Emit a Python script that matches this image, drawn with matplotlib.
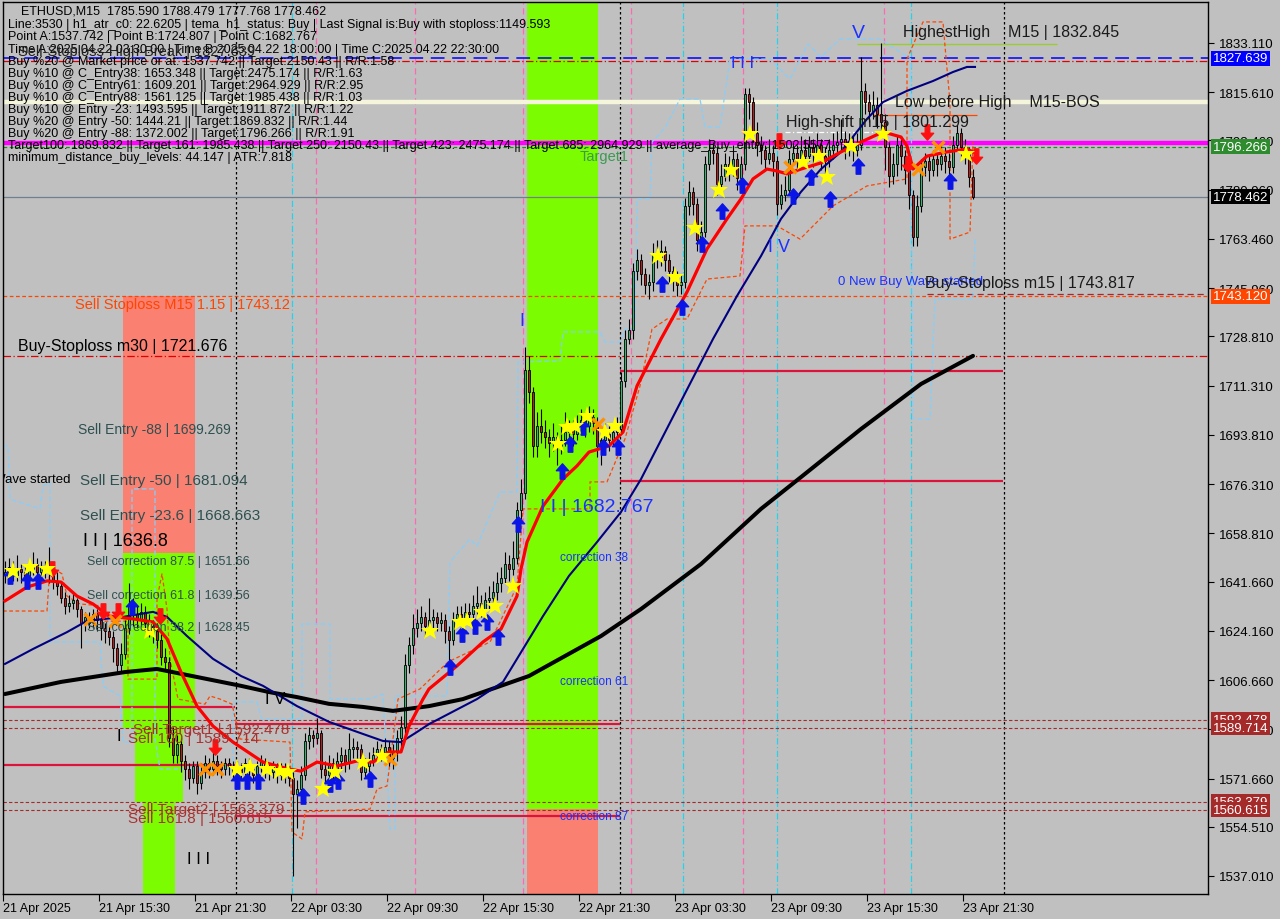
import matplotlib.pyplot as plt
import numpy as np
from matplotlib.path import Path

plt.rcParams['font.family'] = ['Liberation Sans', 'DejaVu Sans']

# ---------------- data ----------------
# M15 candles, bar 0 = 21 Apr 09:30
first_open = 1644
close = [1645, 1647, 1644, 1646, 1645, 1643, 1646, 1648, 1645, 1647, 1646,
         1645, 1642, 1640, 1636, 1633, 1634, 1635, 1632, 1627, 1629,
         1627, 1630, 1628, 1625, 1624, 1622, 1618, 1612, 1616, 1625,
         1633, 1630, 1628, 1631, 1627, 1626, 1624, 1621, 1615, 1613,
         1586, 1580, 1584, 1578, 1575, 1572, 1576, 1570, 1574, 1577,
         1575, 1578, 1576, 1575, 1577, 1576, 1574, 1576, 1574, 1577,
         1575, 1573, 1576, 1578, 1575, 1574, 1576, 1573, 1575, 1574,
         1572, 1566, 1568, 1573, 1585, 1587, 1586, 1588, 1575, 1573,
         1577, 1574, 1578, 1580, 1577, 1582, 1583, 1582, 1574, 1576,
         1578, 1580, 1582, 1581, 1583, 1579, 1581, 1586, 1590, 1612,
         1619, 1625, 1627, 1629, 1626, 1628, 1629, 1627, 1628, 1624,
         1621, 1628, 1630, 1629, 1631, 1630, 1633, 1634, 1632, 1635,
         1636, 1638, 1641, 1643, 1648, 1646, 1650, 1667, 1673, 1717,
         1709, 1690, 1697, 1695, 1693, 1691, 1693, 1690, 1692, 1695,
         1696, 1694, 1697, 1699, 1697, 1700, 1698, 1690, 1692, 1694,
         1692, 1695, 1696, 1713, 1728, 1731, 1752, 1756, 1751, 1747,
         1748, 1758, 1757, 1759, 1756, 1752, 1749, 1747, 1748, 1775,
         1780, 1776, 1763, 1766, 1790, 1795, 1794, 1783, 1786, 1790,
         1788, 1792, 1785, 1790, 1815, 1812, 1801, 1797, 1795, 1792,
         1794, 1791, 1776, 1779, 1781, 1792, 1794, 1792, 1795, 1793,
         1796, 1794, 1797, 1793, 1791, 1795, 1797, 1798, 1799, 1796,
         1797, 1795, 1797, 1816, 1812, 1809, 1811, 1808, 1805, 1796,
         1786, 1790, 1797, 1793, 1788, 1779, 1764, 1775, 1789, 1791,
         1788, 1792, 1790, 1793, 1791, 1789, 1797, 1801, 1796, 1794,
         1785.59, 1778.462]
high = [1649, 1650, 1649, 1651, 1648, 1647, 1648, 1652, 1650, 1649, 1649,
        1654, 1647, 1645, 1642, 1638, 1637, 1638, 1636, 1633, 1631,
        1631, 1632, 1632, 1629, 1627, 1626, 1624, 1620, 1620, 1628,
        1641, 1636, 1633, 1634, 1633, 1630, 1628, 1627, 1623, 1618,
        1615, 1590, 1587, 1586, 1580, 1577, 1578, 1578, 1577, 1580,
        1579, 1581, 1580, 1578, 1579, 1579, 1578, 1578, 1577, 1579,
        1579, 1576, 1578, 1580, 1579, 1577, 1578, 1577, 1577, 1577,
        1576, 1574, 1571, 1576, 1588, 1590, 1589, 1593, 1589, 1578,
        1580, 1579, 1581, 1583, 1582, 1588, 1586, 1585, 1584, 1579,
        1581, 1583, 1585, 1584, 1586, 1585, 1584, 1589, 1594, 1616,
        1622, 1630, 1632, 1633, 1631, 1636, 1632, 1631, 1631, 1630,
        1626, 1631, 1633, 1633, 1634, 1634, 1637, 1640, 1637, 1638,
        1640, 1642, 1645, 1647, 1652, 1651, 1656, 1670, 1678, 1725,
        1722, 1711, 1702, 1703, 1699, 1696, 1698, 1695, 1697, 1702,
        1699, 1699, 1701, 1703, 1702, 1704, 1703, 1700, 1696, 1698,
        1697, 1698, 1700, 1716, 1731, 1735, 1755, 1760, 1758, 1753,
        1751, 1762, 1763, 1763, 1761, 1758, 1754, 1752, 1751, 1778,
        1784, 1782, 1778, 1770, 1793, 1799, 1798, 1796, 1790, 1794,
        1793, 1797, 1794, 1793, 1817, 1817, 1814, 1805, 1800, 1797,
        1799, 1797, 1793, 1783, 1786, 1795, 1798, 1797, 1800, 1799,
        1800, 1799, 1801, 1799, 1796, 1799, 1801, 1802, 1806, 1802,
        1801, 1800, 1801, 1828, 1819, 1815, 1816, 1814, 1833, 1808,
        1798, 1794, 1800, 1799, 1795, 1790, 1781, 1779, 1792, 1794,
        1793, 1795, 1794, 1797, 1796, 1794, 1800, 1804, 1803, 1799,
        1796, 1788.479]
low = [1641, 1643, 1642, 1642, 1641, 1640, 1641, 1644, 1643, 1642, 1643,
       1641, 1639, 1637, 1634, 1630, 1631, 1632, 1629, 1618, 1624,
       1625, 1625, 1624, 1621, 1620, 1619, 1613, 1609, 1610, 1614,
       1623, 1626, 1625, 1626, 1624, 1622, 1620, 1618, 1612, 1610,
       1583, 1577, 1577, 1574, 1571, 1568, 1570, 1566, 1568, 1572,
       1572, 1573, 1573, 1572, 1573, 1573, 1571, 1572, 1571, 1573,
       1572, 1570, 1572, 1574, 1572, 1571, 1572, 1570, 1571, 1570,
       1569, 1537, 1554, 1564, 1571, 1582, 1583, 1584, 1572, 1570,
       1571, 1571, 1572, 1575, 1574, 1575, 1579, 1579, 1571, 1572,
       1574, 1576, 1578, 1578, 1579, 1576, 1575, 1578, 1583, 1588,
       1609, 1616, 1622, 1624, 1622, 1623, 1625, 1624, 1624, 1620,
       1613, 1619, 1626, 1626, 1627, 1627, 1628, 1630, 1629, 1630,
       1632, 1633, 1635, 1638, 1641, 1642, 1644, 1648, 1664, 1671,
       1705, 1686, 1686, 1691, 1689, 1686, 1688, 1683, 1687, 1690,
       1692, 1690, 1692, 1695, 1693, 1695, 1694, 1686, 1683, 1689,
       1688, 1690, 1692, 1694, 1711, 1726, 1728, 1749, 1747, 1744,
       1742, 1745, 1753, 1754, 1752, 1748, 1745, 1743, 1744, 1746,
       1772, 1772, 1759, 1760, 1764, 1788, 1790, 1779, 1781, 1784,
       1784, 1786, 1781, 1782, 1788, 1806, 1798, 1793, 1790, 1788,
       1790, 1786, 1772, 1774, 1777, 1779, 1790, 1788, 1790, 1790,
       1791, 1789, 1792, 1788, 1786, 1789, 1792, 1794, 1795, 1792,
       1793, 1791, 1793, 1795, 1808, 1805, 1806, 1803, 1800, 1788,
       1782, 1783, 1786, 1788, 1783, 1774, 1761, 1761, 1773, 1786,
       1784, 1786, 1786, 1788, 1787, 1785, 1787, 1795, 1793, 1790,
       1782, 1777.768]

# indicator lines (bar index, price)
ma200_x = [0, 14, 30, 38, 59, 66, 73, 81, 89.5, 97, 106, 114.5, 131, 149, 159,
           174, 189, 199, 214, 229, 242]
ma200_y = [1601.7, 1606.0, 1609.5, 1610.6, 1604.6, 1602.4, 1600.6, 1598.2, 1597.1,
           1595.7, 1597.4, 1599.9, 1608.1, 1622.3, 1631.9, 1647.9, 1667.5, 1678.8,
           1695.9, 1711.9, 1721.9]
ma50_x = [0, 7, 15.5, 20.5, 29.5, 37, 40.5, 45.5, 52, 59, 64.5, 73, 81, 89.5, 94.5,
          99, 103, 106, 118, 124.5, 129.5, 134.5, 141, 148, 154, 159, 177, 183, 189,
          194, 199, 204, 209, 215.5, 219.5, 225.5, 232, 237, 240.5, 242.5]
ma50_y = [1612.4, 1617.7, 1623.7, 1627.7, 1629.1, 1630.9, 1629.1, 1622.3, 1614.2,
          1608.1, 1604.6, 1597.4, 1591.8, 1587.5, 1585.0, 1584.6, 1588.2, 1591.0,
          1599.9, 1606.0, 1617.7, 1629.4, 1643.7, 1655.7, 1666.4, 1678.1, 1727.9,
          1743.2, 1757.4, 1770.6, 1780.2, 1788.3, 1794.4, 1806.1, 1812.1, 1816.1,
          1819.6, 1822.8, 1824.6, 1824.6]
tema_x = [0, 5.5, 10.5, 14, 18, 22, 26, 32, 37, 40.5, 44, 48, 52, 57, 64.5, 71, 74,
          78, 83, 88, 92, 96, 99, 101, 104.5, 106, 113, 119.5, 124, 128, 129, 130.5,
          134.5, 139.5, 143, 146, 151, 154.5, 158, 164, 170.5, 175.5, 180.5, 184,
          187, 190.5, 193, 195.5, 199, 204, 209, 214, 219.5, 224, 225.5, 227, 230.5,
          235.5, 240.5, 242]
tema_y = [1634.8, 1639.7, 1641.9, 1641.5, 1636.5, 1633.7, 1629.4, 1628.4, 1627.3,
          1621.3, 1609.5, 1597.4, 1590.3, 1584.6, 1577.5, 1575.0, 1574.3, 1577.5,
          1576.1, 1577.9, 1577.5, 1581.1, 1581.1, 1590.3, 1599.9, 1603.5, 1611.7,
          1620.2, 1624.8, 1636.5, 1646.1, 1655.7, 1668.5, 1678.1, 1682.8, 1687.7,
          1689.9, 1694.8, 1711.2, 1727.9, 1744.6, 1759.9, 1770.6, 1777.7, 1784.8,
          1788.3, 1787.6, 1786.6, 1788.3, 1790.5, 1794.4, 1797.9, 1801.5, 1799.7,
          1796.5, 1788.3, 1792.9, 1794.4, 1795.4, 1794.4]
orange_x = [-0.5, 10.5, 11.25, 14.25, 15.5, 18.75, 24.5, 24.5, 30.75, 30.75, 38, 38,
            39.25, 40.5, 41.25, 43.25, 50, 51.25, 53.75, 56.75, 58.75, 71.25, 71.75,
            74.25, 75, 91.25, 93, 95.5, 97, 98.25, 103.75, 110.75, 121.25, 123.75,
            128, 129.5, 146.25, 146.25, 150.5, 155, 158.75, 161.75, 165.5, 170.5,
            175.5, 183.75, 185, 193, 198.75, 207, 215.5, 225.5, 225.5, 229.5, 234.5,
            235, 236.25, 236.25, 241.25, 242]
orange_y = [1631.2, 1631.2, 1647.2, 1644.4, 1636.5, 1633.7, 1633.0, 1627.6, 1627.6,
            1607.0, 1607.0, 1635.5, 1644.4, 1631.9, 1614.1, 1599.9, 1598.1, 1601.0,
            1599.9, 1598.1, 1585.7, 1584.6, 1552.6, 1550.2, 1559.8, 1560.8, 1567.9,
            1569.0, 1585.7, 1599.9, 1603.5, 1613.1, 1620.2, 1627.3, 1640.1, 1667.5,
            1667.5, 1677.1, 1677.1, 1692.4, 1711.2, 1731.4, 1735.0, 1735.0, 1749.2,
            1750.3, 1768.1, 1768.1, 1763.4, 1775.2, 1782.3, 1784.8, 1827.4, 1840.6,
            1840.6, 1832.0, 1812.1, 1763.4, 1765.9, 1797.9]
sky_x = [-0.5, 0.75, 1.25, 8.75, 9.5, 11.25, 11.25, 23.75, 24.5, 28.75, 29.5, 31.75,
         31.75, 37.5, 37.5, 38.75, 57, 57, 63, 64.25, 74.25, 74.25, 81.25, 81.25,
         91.25, 94.5, 96.25, 97.5, 97.5, 110.5, 111.25, 116.25, 118, 123.75, 128,
         128.25, 138.75, 139.5, 148.75, 150, 153.75, 155, 157.5, 158, 161.25, 161.75,
         165, 168.75, 173.75, 175, 178.75, 181.25, 191.25, 196.25, 200.75, 204,
         208.75, 218.75, 226.5, 227, 231.25, 232.5, 242, 242.5]
sky_y = [1689.9, 1689.9, 1671.0, 1667.5, 1675.6, 1677.0, 1620.2, 1620.2, 1604.5,
         1601.0, 1584.6, 1584.6, 1674.6, 1674.6, 1585.7, 1575.0, 1575.0, 1598.9,
         1598.9, 1592.8, 1592.8, 1626.6, 1626.6, 1599.9, 1599.9, 1601.7, 1553.7,
         1553.7, 1601.0, 1601.0, 1648.6, 1656.8, 1654.3, 1673.5, 1673.5, 1719.7,
         1720.1, 1730.4, 1730.4, 1726.8, 1726.8, 1731.4, 1731.4, 1777.7, 1777.7,
         1797.9, 1802.9, 1813.2, 1813.2, 1803.2, 1803.2, 1827.4, 1827.4, 1820.3,
         1832.8, 1828.1, 1834.5, 1834.5, 1827.4, 1699.5, 1699.5, 1742.1, 1742.1,
         1763.4]

# signal markers (bar index, price)
star_x = [2, 6.25, 10.5, 36.25, 58, 61.25, 65.5, 68.75, 70.75, 79.5, 82.5, 89.5,
          94.25, 106.25, 113.75, 115.5, 119.25, 122.5, 127, 138.25, 140.5, 142.5,
          145.5, 150, 152.5, 163.25, 167.5, 172.5, 178.5, 181.5, 186.25, 199.5,
          203.5, 205.5, 211.5, 219.5, 240.25]
star_y = [1645.4, 1646.9, 1646.1, 1624.1, 1575.0, 1575.8, 1575.0, 1574.3, 1574.0,
          1567.9, 1574.0, 1577.5, 1579.7, 1624.1, 1627.3, 1627.6, 1630.9, 1633.0,
          1640.1, 1690.6, 1696.6, 1697.0, 1700.5, 1694.8, 1697.0, 1757.4, 1749.9,
          1767.3, 1780.7, 1788.0, 1800.8, 1790.8, 1792.9, 1785.5, 1796.5, 1800.8,
          1793.7]
up_x = [1.25, 5.5, 8.25, 31.75, 58, 60.5, 63.25, 74.5, 81.25, 83.25, 91.25, 111.25,
        114.25, 117.5, 120.5, 123.25, 128.25, 139.25, 141.25, 144.5, 149.5, 153.25,
        164.25, 169.25, 174.25, 179.25, 184.25, 197, 201.5, 206.25, 213.25, 236.25]
up_y = [1643.6, 1641.9, 1641.9, 1632.6, 1570.8, 1570.8, 1570.8, 1565.5, 1569.7,
        1570.8, 1571.5, 1611.3, 1623.0, 1625.9, 1627.3, 1622.0, 1662.1, 1681.0,
        1690.6, 1696.6, 1689.5, 1689.5, 1747.4, 1739.3, 1761.7, 1773.4, 1782.6,
        1778.7, 1785.5, 1777.7, 1789.4, 1784.1]
down_x = [11.75, 24.5, 28.25, 38.75, 52.5, 193.5, 225.75, 230.5, 242.75]
down_y = [1646.1, 1631.2, 1631.2, 1629.4, 1582.9, 1798.3, 1790.1, 1801.5, 1793.0]
cross_x = [21.25, 27.5, 50, 53, 96.25, 148.25, 196.25, 228.25, 233.25]
cross_y = [1628.4, 1627.7, 1575.0, 1575.0, 1578.6, 1697.7, 1789.0, 1788.3, 1796.1]

# zones
zone_left = [29.5, 29.5, 32.5, 34.5, 130.5, 130.5]
zone_right = [47.5, 47.5, 44.5, 42.5, 148.25, 148.25]
zone_low = [1651.66, 1589.714, 1563.379, 1500, 1561.0, 1500]
zone_high = [1743.12, 1651.66, 1589.714, 1563.379, 1900, 1561.0]
zone_color = ['#fa8072', '#7cfc00', '#7cfc00', '#7cfc00', '#7cfc00', '#fa8072']

# level segments (start bar, end bar, price)
seg_start = [-0.5, -0.5, 57.5, 57.5, 153.75, 153.75]
seg_end = [57.5, 57.5, 153.75, 153.75, 249.5, 249.5]
seg_price = [1597.1, 1576.5, 1591.0, 1558.3, 1716.5, 1677.4]

day_sep = [57.75, 153.75, 249.75]
pink_v = [77.75, 102.5, 129.5, 156.5, 184.5, 219.75]
cyan_v = [71.75, 169.5, 193, 226.5]

yticks = [1833.110, 1815.610, 1798.460, 1780.960, 1763.460, 1745.960, 1728.810,
          1711.310, 1693.810, 1676.310, 1658.810, 1641.660, 1624.160, 1606.660,
          1589.160, 1571.660, 1554.510, 1537.010]
xtick_bars = [0, 24, 48, 72, 96, 120, 144, 168, 192, 216, 240]
xtick_labels = ['21 Apr 2025', '21 Apr 15:30', '21 Apr 21:30', '22 Apr 03:30',
                '22 Apr 09:30', '22 Apr 15:30', '22 Apr 21:30', '23 Apr 03:30',
                '23 Apr 09:30', '23 Apr 15:30', '23 Apr 21:30']

price_tags = [1827.639, 1796.266, 1778.462, 1743.120, 1592.478, 1589.714, 1563.379,
              1560.615]
tag_colors = ['#0000ff', '#2e8b2e', '#000000', '#ff4500', '#a52a2a', '#a52a2a',
              '#a52a2a', '#a52a2a']

# ---------------- figure ----------------
BG = '#c0c0c0'
fig = plt.figure(figsize=(12.8, 9.2), dpi=100, facecolor=BG)
ax = fig.add_axes([3 / 1280, 25 / 920, 1205 / 1280, 892 / 920], facecolor=BG)
ax.set_xlim(-0.5, 300.75)
ax.set_ylim(1530.61, 1847.68)

for x0, x1, y0, y1, col in zip(zone_left, zone_right, zone_low, zone_high, zone_color):
    ax.fill_between([x0, x1], y0, y1, color=col, lw=0, zorder=0.5)

# vertical markers
for v in day_sep:
    ax.axvline(v, color='black', lw=0.9, ls=(0, (2, 2)), zorder=1)
for v in pink_v:
    ax.axvline(v, color='#ff69b4', lw=0.9, ls=(0, (5, 3)), zorder=1)
for v in cyan_v:
    ax.axvline(v, color='#22d3ee', lw=0.9, ls=(0, (5, 2, 1, 2)), zorder=1)

# horizontal levels
ax.axhline(1812.1, color='#f5f5dc', lw=3.2, zorder=1.2)
ax.axhline(1797.6, color='#ff00ff', lw=3.2, zorder=1.2)
ax.axhline(1796.266, color='#228b22', lw=0.9, ls=(0, (3, 2)), zorder=1.3)
ax.axhline(1827.639, color='#0000ff', lw=1.1, ls=(0, (9, 5)), zorder=1.3)
ax.axhline(1826.6, color='#e00000', lw=0.9, ls=(0, (6, 2, 1, 2)), zorder=1.3)
ax.axhline(1778.462, color='#708090', lw=0.9, zorder=1.3)
ax.axhline(1743.12, color='#ff4500', lw=0.9, ls=(0, (3, 2)), zorder=1.3)
ax.hlines(1743.817, 230.5, 300, color='#b22222', lw=0.9, ls=(0, (5, 3)), zorder=1.3)
ax.axhline(1721.676, color='#e00000', lw=0.9, ls=(0, (6, 2, 1, 2)), zorder=1.3)
for lv in [1592.478, 1589.714, 1563.379, 1560.615]:
    ax.axhline(lv, color='#a52a2a', lw=0.8, ls=(0, (3, 2)), zorder=1.3)
ax.hlines(seg_price, seg_start, seg_end, color='#dc143c', lw=1.6, zorder=1.4)
ax.hlines(1832.845, 213, 263, color='#9acd32', lw=1.0, zorder=1.4)
ax.hlines(1807.5, 217, 243, color='#ff4500', lw=0.9, zorder=1.4)
ax.hlines(1801.3, 195, 217, color='white', lw=0.9, ls=(0, (4, 2, 1, 2)), zorder=1.4)

# envelopes
ax.plot(sky_x, sky_y, color='#87cefa', lw=0.9, ls=(0, (4, 2)), zorder=1.6)
ax.plot(orange_x, orange_y, color='#ff4500', lw=0.9, ls=(0, (3, 2)), zorder=1.6)

# candles
c = np.array(close, dtype=float)
o = np.concatenate([[first_open], c[:-1]])
idx = np.arange(len(c))
bull = c >= o
ax.vlines(idx, low, high, color='black', lw=0.8, zorder=3)
ax.bar(idx[bull], (c - o)[bull], bottom=o[bull], width=0.65, color='#3cb371',
       edgecolor='black', lw=0.6, zorder=3.2)
ax.bar(idx[~bull], (o - c)[~bull], bottom=c[~bull], width=0.65, color='#b22222',
       edgecolor='black', lw=0.6, zorder=3.2)

# moving averages
ax.plot(ma200_x, ma200_y, color='black', lw=2.9, zorder=4, solid_capstyle='round')
ax.plot(ma50_x, ma50_y, color='#000080', lw=1.5, zorder=4)
ax.plot(tema_x, tema_y, color='#ff0000', lw=2.3, zorder=4.2)

# signal markers
arrow_up = Path([(0, 1), (-0.8, 0.1), (-0.3, 0.1), (-0.3, -1), (0.3, -1), (0.3, 0.1),
                 (0.8, 0.1), (0, 1)],
                [Path.MOVETO] + [Path.LINETO] * 6 + [Path.CLOSEPOLY])
arrow_dn = Path([(0, -1), (-0.8, -0.1), (-0.3, -0.1), (-0.3, 1), (0.3, 1), (0.3, -0.1),
                 (0.8, -0.1), (0, -1)],
                [Path.MOVETO] + [Path.LINETO] * 6 + [Path.CLOSEPOLY])
ax.plot(up_x, up_y, ls='none', marker=arrow_up, ms=11, color='#0a14e6', zorder=5)
ax.plot(down_x, down_y, ls='none', marker=arrow_dn, ms=11, color='#ff1010', zorder=5)
ax.plot(cross_x, cross_y, ls='none', marker='x', ms=8, mew=2.4, color='#ff9000', zorder=5)
ax.plot(star_x, star_y, ls='none', marker='*', ms=14, color='#ffff00', mew=0, zorder=5.5)

# frame and axes
for s in ax.spines.values():
    s.set_color('black')
    s.set_linewidth(1)
ax.yaxis.tick_right()
ax.set_yticks(yticks)
ax.set_yticklabels([f'{v:.3f}' for v in yticks])
ax.tick_params(axis='y', direction='out', length=4, width=0.8, pad=4,
               labelsize=9.5, colors='black')
ax.set_xticks([b - 0.5 for b in xtick_bars])
ax.set_xticklabels(xtick_labels)
ax.tick_params(axis='x', direction='out', length=5, width=0.8, pad=1, labelsize=9)
for lbl in ax.get_xticklabels():
    lbl.set_ha('left')

for p, col in zip(price_tags, tag_colors):
    ax.annotate(f'{p:.3f}', xy=(1.0, p), xycoords=('axes fraction', 'data'),
                xytext=(5, 0), textcoords='offset pixels', va='center', ha='left',
                fontsize=9.5, color='white', zorder=10, annotation_clip=False,
                bbox=dict(boxstyle='square,pad=0.12', fc=col, ec='none'))


def label(x, y, s, size=9.0, color='black', ha='left'):
    ax.text((x - 3) / 1205, (895 - y) / 892, s, transform=ax.transAxes,
            fontsize=size, color=color, va='center', ha=ha, clip_on=True, zorder=6)


info = ['Line:3530 | h1_atr_c0: 22.6205 | tema_h1_status: Buy | Last Signal is:Buy with stoploss:1149.593',
        'Point A:1537.742 | Point B:1724.807 | Point C:1682.767',
        'Time A:2025.04.22 03:30:00 | Time B:2025.04.22 18:00:00 | Time C:2025.04.22 22:30:00',
        'Buy %20 @ Market price or at: 1537.742 || Target:2150.43 || R/R:1.58',
        'Buy %10 @ C_Entry38: 1653.348 || Target:2475.174 || R/R:1.63',
        'Buy %10 @ C_Entry61: 1609.201 || Target:2964.929 || R/R:2.95',
        'Buy %10 @ C_Entry88: 1561.125 || Target:1985.438 || R/R:1.03',
        'Buy %10 @ Entry -23: 1493.595 || Target:1911.872 || R/R:1.22',
        'Buy %20 @ Entry -50: 1444.21 || Target:1869.832 || R/R:1.44',
        'Buy %20 @ Entry -88: 1372.002 || Target:1796.266 || R/R:1.91',
        'Target100: 1869.832 || Target 161: 1985.438 || Target 250: 2150.43 || Target 423: 2475.174 || Target 685: 2964.929 || average_Buy_entry: 1502.5577',
        'minimum_distance_buy_levels: 44.147 | ATR:7.818']
label(21, 12, 'ETHUSD,M15  1785.590 1788.479 1777.768 1778.462')
for k, line in enumerate(info):
    label(8, 25 + 12 * k + (1 if k >= 2 else 0), line)
label(18, 52, 'Sell-Stoploss-High-Break | 1827.639', 10.5, '#222222')

blue = '#1a32ff'
slate = '#2f4f4f'
brown = '#a83232'
label(580, 157, 'Target1', 10.5, '#3c9a50')
label(852, 33, 'V', 14, blue)
label(903, 33, 'HighestHigh    M15 | 1832.845', 11.5, '#1a1a1a')
label(731, 63, 'I I I', 12, blue)
label(895, 103, 'Low before High    M15-BOS', 11.5, '#1a1a1a')
label(786, 122, 'High-shift m15 | 1801.299', 11.5, '#1a1a1a')
label(768, 248, 'I V', 13, blue)
label(838, 282, '0 New Buy Wave started', 9.5, blue)
label(925, 284, 'Buy-Stoploss m15 | 1743.817', 11.5, '#1a1a1a')
label(75, 305, 'Sell Stoploss M15 1.15 | 1743.12', 10.5, '#ff4500')
label(519, 322, 'I', 13, blue)
label(18, 346, 'Buy-Stoploss m30 | 1721.676', 11.5, 'black')
label(78, 430, 'Sell Entry -88 | 1699.269', 10, slate)
label(71, 480, '0 New Sell Wave started', 9.5, 'black', ha='right')
label(80, 481, 'Sell Entry -50 | 1681.094', 11, slate)
label(80, 516, 'Sell Entry -23.6 | 1668.663', 11, slate)
label(540, 507, 'I I | 1682.767', 14, blue)
label(83, 541, 'I I | 1636.8', 13, 'black')
label(87, 562, 'Sell correction 87.5 | 1651.66', 9, slate)
label(87, 596, 'Sell correction 61.8 | 1639.56', 9, slate)
label(87, 628, 'Sell correction 38.2 | 1628.45', 9, slate)
label(560, 558, 'correction 38', 8.5, blue)
label(560, 682, 'correction 61', 8.5, blue)
label(560, 817, 'correction 87', 8.5, blue)
label(265, 700, 'I V', 12, 'black')
label(133, 730, 'Sell Target1 | 1592.478', 11, brown)
label(116, 737, 'I', 12, 'black')
label(128, 739, 'Sell 100 | 1589.714', 11, brown)
label(128, 810, 'Sell Target2 | 1563.379', 11, brown)
label(128, 819, 'Sell 161.8 | 1560.615', 11, brown)
label(187, 860, 'I I I', 12, 'black')

plt.savefig('out.png', dpi=100, facecolor=BG)
